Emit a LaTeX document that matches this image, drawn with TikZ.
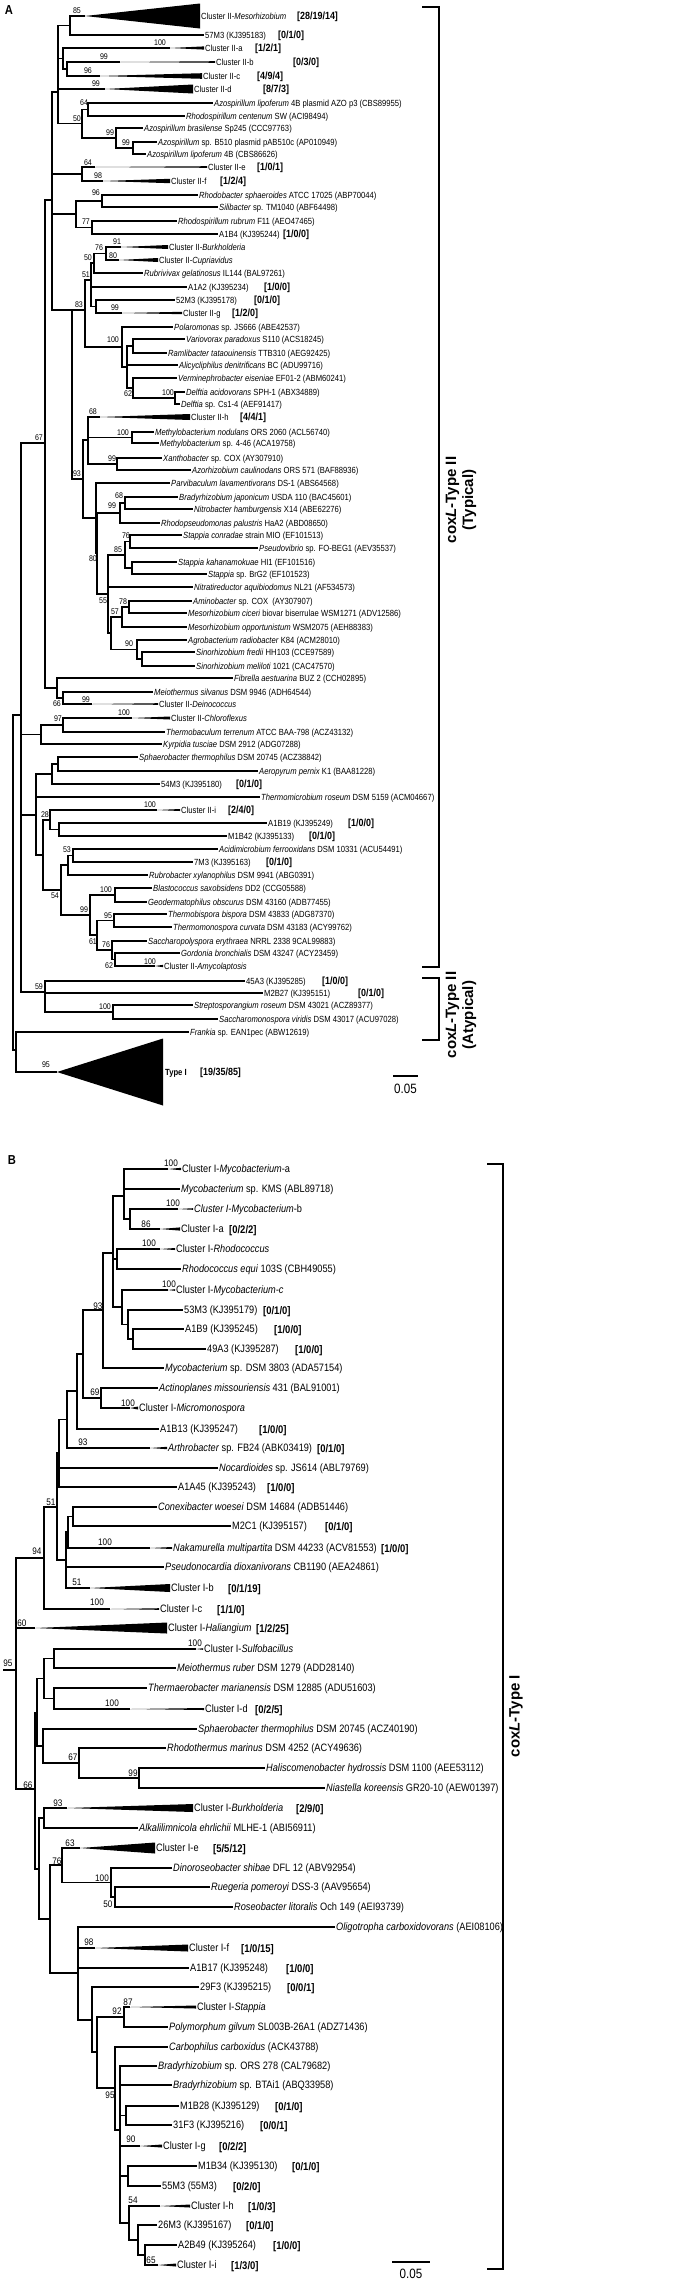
\documentclass[tikz,border=0pt]{standalone}
\usepackage{fontspec}
\setmainfont{Liberation Sans}[FakeStretch=0.86]
\newfontfamily\bracketfont{Liberation Sans}
\tikzset{
  branch/.style={line width=1.1pt},
  labA/.style={anchor=west, inner sep=1pt, text height=7pt, text depth=1pt, font=\fontsize{8.9}{10}\selectfont},
  labB/.style={anchor=west, inner sep=1pt, text height=8.5pt, text depth=1pt, font=\fontsize{10.7}{12}\selectfont},
  bootA/.style={inner sep=0pt, font=\fontsize{8.2}{9}\selectfont},
  bootB/.style={inner sep=0pt, font=\fontsize{9.5}{10}\selectfont},
  tallyA/.style={anchor=west, inner sep=0pt, text height=8.4pt, text depth=1pt, font=\fontsize{10.4}{12}\selectfont\bfseries},
  tallyB/.style={anchor=west, inner sep=0pt, text height=9pt, text depth=1pt, font=\fontsize{11}{12}\selectfont\bfseries},
  typebox/.style={rotate=90, align=center, inner sep=0pt, font=\bracketfont\fontsize{15}{17}\selectfont\bfseries},
}

\begin{document}
\begin{tikzpicture}[x=1pt, y=-1pt]
\useasboundingbox (0,0) rectangle (698,2281);

%%%%%%%%%%%%%%%% panel A
\node[font=\fontsize{13}{13}\selectfont\bfseries] (pa) at (9,10) {A};

% internal nodes
\coordinate (u1) at (13,882);
\coordinate (u2) at (21,715);
\coordinate (u3) at (45,443);
\coordinate (u4) at (52,200);
\coordinate (u5) at (58,92);
\coordinate (u6) at (70,25.5);
\coordinate (u7) at (63,58.5);
\coordinate (u8) at (67,69);
\coordinate (u9) at (82,123.5);
\coordinate (u10) at (88,109.5);
\coordinate (u11) at (116,138);
\coordinate (u12) at (133,148);
\coordinate (u13) at (82,174);
\coordinate (u14) at (76,214);
\coordinate (u15) at (102,201);
\coordinate (u16) at (92,227.5);
\coordinate (u17) at (72,310);
\coordinate (u18) at (85,310);
\coordinate (u19) at (91,280);
\coordinate (u20) at (94,263);
\coordinate (u21) at (106,253.5);
\coordinate (u22) at (96,306.5);
\coordinate (u23) at (122,347);
\coordinate (u24) at (127,367);
\coordinate (u25) at (133,346);
\coordinate (u26) at (133,388);
\coordinate (u27) at (175,398);
\coordinate (u28) at (83,479);
\coordinate (u29) at (88,440);
\coordinate (u30) at (132,437.5);
\coordinate (u31) at (117,464);
\coordinate (u32) at (96,518);
\coordinate (u33) at (97,553);
\coordinate (u34) at (120,513);
\coordinate (u35) at (125,503);
\coordinate (u36) at (108,594);
\coordinate (u37) at (125,555);
\coordinate (u38) at (130,541.5);
\coordinate (u39) at (132,568);
\coordinate (u40) at (111,633);
\coordinate (u41) at (122,617);
\coordinate (u42) at (129,607);
\coordinate (u43) at (137,649.5);
\coordinate (u44) at (142,659);
\coordinate (u45) at (57,688);
\coordinate (u46) at (63,698);
\coordinate (u47) at (41,734.5);
\coordinate (u48) at (63,725);
\coordinate (u49) at (36,815);
\coordinate (u50) at (52,774);
\coordinate (u51) at (58,764);
\coordinate (u52) at (43,855);
\coordinate (u53) at (50,820);
\coordinate (u54) at (59,829.5);
\coordinate (u55) at (61,890);
\coordinate (u56) at (68,865);
\coordinate (u57) at (73,855.5);
\coordinate (u58) at (90,915);
\coordinate (u59) at (115,895);
\coordinate (u60) at (97,935);
\coordinate (u61) at (114,920.5);
\coordinate (u62) at (112,950);
\coordinate (u63) at (115,959.5);
\coordinate (u64) at (45,992);
\coordinate (u65) at (113,1012);
\coordinate (u66) at (16,1050);

% collapsed clades (apex)
\coordinate (wa1) at (85,16);
\coordinate (wa3) at (170,48);
\coordinate (wa4) at (120,62);
\coordinate (wa5) at (100,76);
\coordinate (wa6) at (105,89);
\coordinate (wa12) at (95,167);
\coordinate (wa13) at (103,181);
\coordinate (wa18) at (121,247);
\coordinate (wa19) at (119,260);
\coordinate (wa23) at (122,313);
\coordinate (wa31) at (100,417);
\coordinate (wa53) at (92,704);
\coordinate (wa54) at (132,718);
\coordinate (wa61) at (157,810);
\coordinate (wa73) at (155,966);
\coordinate (wa79) at (57,1072);

% leaves
\node[labA] (a1) at (200,16) {Cluster II-\textit{Mesorhizobium}};
\node[labA] (a2) at (204,35) {57M3 (KJ395183)};
\node[labA] (a3) at (204,48) {Cluster II-a};
\node[labA] (a4) at (215,62) {Cluster II-b};
\node[labA] (a5) at (202,76) {Cluster II-c};
\node[labA] (a6) at (193,89) {Cluster II-d};
\node[labA] (a7) at (213,103) {\textit{Azospirillum lipoferum} 4B plasmid AZO p3 (CBS89955)};
\node[labA] (a8) at (185,116) {\textit{Rhodospirillum centenum} SW (ACI98494)};
\node[labA] (a9) at (143,128) {\textit{Azospirillum brasilense} Sp245 (CCC97763)};
\node[labA] (a10) at (157,142) {\textit{Azospirillum} sp. B510 plasmid pAB510c (AP010949)};
\node[labA] (a11) at (146,154) {\textit{Azospirillum lipoferum} 4B (CBS86626)};
\node[labA] (a12) at (207,167) {Cluster II-e};
\node[labA] (a13) at (170,181) {Cluster II-f};
\node[labA] (a14) at (198,195) {\textit{Rhodobacter sphaeroides} ATCC 17025 (ABP70044)};
\node[labA] (a15) at (218,207) {\textit{Silibacter} sp. TM1040 (ABF64498)};
\node[labA] (a16) at (177,221) {\textit{Rhodospirillum rubrum} F11 (AEO47465)};
\node[labA] (a17) at (218,234) {A1B4 (KJ395244)};
\node[labA] (a18) at (168,247) {Cluster II-\textit{Burkholderia}};
\node[labA] (a19) at (158,260) {Cluster II-\textit{Cupriavidus}};
\node[labA] (a20) at (143,273) {\textit{Rubrivivax gelatinosus} IL144 (BAL97261)};
\node[labA] (a21) at (187,287) {A1A2 (KJ395234)};
\node[labA] (a22) at (175,300) {52M3 (KJ395178)};
\node[labA] (a23) at (182,313) {Cluster II-g};
\node[labA] (a24) at (173,327) {\textit{Polaromonas} sp. JS666 (ABE42537)};
\node[labA] (a25) at (185,339) {\textit{Variovorax paradoxus} S110 (ACS18245)};
\node[labA] (a26) at (167,353) {\textit{Ramlibacter tataouinensis} TTB310 (AEG92425)};
\node[labA] (a27) at (178,365) {\textit{Alicycliphilus denitrificans} BC (ADU99716)};
\node[labA] (a28) at (177,378) {\textit{Verminephrobacter eiseniae} EF01-2 (ABM60241)};
\node[labA] (a29) at (185,392) {\textit{Delftia acidovorans} SPH-1 (ABX34889)};
\node[labA] (a30) at (180,404) {\textit{Delftia} sp. Cs1-4 (AEF91417)};
\node[labA] (a31) at (190,417) {Cluster II-h};
\node[labA] (a32) at (154,432) {\textit{Methylobacterium nodulans} ORS 2060 (ACL56740)};
\node[labA] (a33) at (159,443) {\textit{Methylobacterium} sp. 4-46 (ACA19758)};
\node[labA] (a34) at (162,458) {\textit{Xanthobacter} sp. COX (AY307910)};
\node[labA] (a35) at (191,470) {\textit{Azorhizobium caulinodans} ORS 571 (BAF88936)};
\node[labA] (a36) at (170,483) {\textit{Parvibaculum lavamentivorans} DS-1 (ABS64568)};
\node[labA] (a37) at (178,497) {\textit{Bradyrhizobium japonicum} USDA 110 (BAC45601)};
\node[labA] (a38) at (193,509) {\textit{Nitrobacter hamburgensis} X14 (ABE62276)};
\node[labA] (a39) at (160,523) {\textit{Rhodopseudomonas palustris} HaA2 (ABD08650)};
\node[labA] (a40) at (182,535) {\textit{Stappia conradae} strain MIO (EF101513)};
\node[labA] (a41) at (258,548) {\textit{Pseudovibrio} sp. FO-BEG1 (AEV35537)};
\node[labA] (a42) at (177,562) {\textit{Stappia kahanamokuae} HI1 (EF101516)};
\node[labA] (a43) at (207,574) {\textit{Stappia} sp. BrG2 (EF101523)};
\node[labA] (a44) at (193,587) {\textit{Nitratireductor aquibiodomus} NL21 (AF534573)};
\node[labA] (a45) at (192,601) {\textit{Aminobacter} sp. COX\ \ (AY307907)};
\node[labA] (a46) at (187,613) {\textit{Mesorhizobium ciceri} biovar biserrulae WSM1271 (ADV12586)};
\node[labA] (a47) at (187,627) {\textit{Mesorhizobium opportunistum} WSM2075 (AEH88383)};
\node[labA] (a48) at (187,640) {\textit{Agrobacterium radiobacter} K84 (ACM28010)};
\node[labA] (a49) at (195,652) {\textit{Sinorhizobium fredii} HH103 (CCE97589)};
\node[labA] (a50) at (195,666) {\textit{Sinorhizobium meliloti} 1021 (CAC47570)};
\node[labA] (a51) at (233,678) {\textit{Fibrella aestuarina} BUZ 2 (CCH02895)};
\node[labA] (a52) at (153,692) {\textit{Meiothermus silvanus} DSM 9946 (ADH64544)};
\node[labA] (a53) at (158,704) {Cluster II-\textit{Deinococcus}};
\node[labA] (a54) at (170,718) {Cluster II-\textit{Chloroflexus}};
\node[labA] (a55) at (165,732) {\textit{Thermobaculum terrenum} ATCC BAA-798 (ACZ43132)};
\node[labA] (a56) at (162,744) {\textit{Kyrpidia tusciae} DSM 2912 (ADG07288)};
\node[labA] (a57) at (138,757) {\textit{Sphaerobacter thermophilus} DSM 20745 (ACZ38842)};
\node[labA] (a58) at (258,771) {\textit{Aeropyrum pernix} K1 (BAA81228)};
\node[labA] (a59) at (160,784) {54M3 (KJ395180)};
\node[labA] (a60) at (260,797) {\textit{Thermomicrobium roseum} DSM 5159 (ACM04667)};
\node[labA] (a61) at (180,810) {Cluster II-i};
\node[labA] (a62) at (267,823) {A1B19 (KJ395249)};
\node[labA] (a63) at (227,836) {M1B42 (KJ395133)};
\node[labA] (a64) at (218,849) {\textit{Acidimicrobium ferrooxidans} DSM 10331 (ACU54491)};
\node[labA] (a65) at (193,862) {7M3 (KJ395163)};
\node[labA] (a66) at (148,875) {\textit{Rubrobacter xylanophilus} DSM 9941 (ABG0391)};
\node[labA] (a67) at (152,888) {\textit{Blastococcus saxobsidens} DD2 (CCG05588)};
\node[labA] (a68) at (147,902) {\textit{Geodermatophilus obscurus} DSM 43160 (ADB77455)};
\node[labA] (a69) at (167,914) {\textit{Thermobispora bispora} DSM 43833 (ADG87370)};
\node[labA] (a70) at (172,927) {\textit{Thermomonospora curvata} DSM 43183 (ACY99762)};
\node[labA] (a71) at (147,941) {\textit{Saccharopolyspora erythraea} NRRL 2338 9CAL99883)};
\node[labA] (a72) at (180,953) {\textit{Gordonia bronchialis} DSM 43247 (ACY23459)};
\node[labA] (a73) at (163,966) {Cluster II-\textit{Amycolaptosis}};
\node[labA] (a74) at (245,981) {45A3 (KJ395285)};
\node[labA] (a75) at (263,993) {M2B27 (KJ395151)};
\node[labA] (a76) at (193,1005) {\textit{Streptosporangium roseum} DSM 43021 (ACZ89377)};
\node[labA] (a77) at (218,1019) {\textit{Saccharomonospora viridis} DSM 43017 (ACU97028)};
\node[labA] (a78) at (189,1032) {\textit{Frankia} sp. EAN1pec (ABW12619)};
\node[labA, inner sep=2pt, font=\fontsize{8.9}{10}\selectfont\bfseries] (a79) at (163,1072) {Type I};

% clone counts
\node[tallyA] (ka1) at (297,16) {[28/19/14]};
\node[tallyA] (ka2) at (278,35) {[0/1/0]};
\node[tallyA] (ka3) at (255,48) {[1/2/1]};
\node[tallyA] (ka4) at (293,62) {[0/3/0]};
\node[tallyA] (ka5) at (257,76) {[4/9/4]};
\node[tallyA] (ka6) at (263,89) {[8/7/3]};
\node[tallyA] (ka12) at (257,167) {[1/0/1]};
\node[tallyA] (ka13) at (220,181) {[1/2/4]};
\node[tallyA] (ka17) at (283,234) {[1/0/0]};
\node[tallyA] (ka21) at (264,287) {[1/0/0]};
\node[tallyA] (ka22) at (254,300) {[0/1/0]};
\node[tallyA] (ka23) at (232,313) {[1/2/0]};
\node[tallyA] (ka31) at (240,417) {[4/4/1]};
\node[tallyA] (ka59) at (236,784) {[0/1/0]};
\node[tallyA] (ka61) at (228,810) {[2/4/0]};
\node[tallyA] (ka62) at (348,823) {[1/0/0]};
\node[tallyA] (ka63) at (309,836) {[0/1/0]};
\node[tallyA] (ka65) at (266,862) {[0/1/0]};
\node[tallyA] (ka74) at (322,981) {[1/0/0]};
\node[tallyA] (ka75) at (358,993) {[0/1/0]};
\node[tallyA] (ka79) at (200,1072) {[19/35/85]};

% bootstrap values
\node[bootA] (sa1) at (77,11) {85};
\node[bootA] (sa2) at (160,43) {100};
\node[bootA] (sa3) at (104,57) {99};
\node[bootA] (sa4) at (88,71) {96};
\node[bootA] (sa5) at (96,84) {99};
\node[bootA] (sa6) at (84,103) {64};
\node[bootA] (sa7) at (77,119) {50};
\node[bootA] (sa8) at (110,133) {99};
\node[bootA] (sa9) at (126,143) {99};
\node[bootA] (sa10) at (88,163) {64};
\node[bootA] (sa11) at (98,176) {98};
\node[bootA] (sa12) at (96,193) {96};
\node[bootA] (sa13) at (86,222) {77};
\node[bootA] (sa14) at (117,242) {91};
\node[bootA] (sa15) at (99,248) {76};
\node[bootA] (sa16) at (113,256) {80};
\node[bootA] (sa17) at (88,258) {50};
\node[bootA] (sa18) at (86,275) {51};
\node[bootA] (sa19) at (115,308) {99};
\node[bootA] (sa20) at (79,305) {83};
\node[bootA] (sa21) at (113,340) {100};
\node[bootA] (sa22) at (128,394) {62};
\node[bootA] (sa23) at (168,393) {100};
\node[bootA] (sa24) at (93,412) {68};
\node[bootA] (sa25) at (123,433) {100};
\node[bootA] (sa26) at (112,459) {99};
\node[bootA] (sa27) at (39,438) {67};
\node[bootA] (sa28) at (77,474) {93};
\node[bootA] (sa29) at (119,496) {68};
\node[bootA] (sa30) at (112,506) {99};
\node[bootA] (sa31) at (126,536) {76};
\node[bootA] (sa32) at (118,550) {85};
\node[bootA] (sa33) at (93,559) {80};
\node[bootA] (sa34) at (103,601) {55};
\node[bootA] (sa35) at (123,602) {78};
\node[bootA] (sa36) at (115,612) {57};
\node[bootA] (sa37) at (129,644) {90};
\node[bootA] (sa38) at (57,704) {66};
\node[bootA] (sa39) at (86,700) {99};
\node[bootA] (sa40) at (124,713) {100};
\node[bootA] (sa41) at (58,719) {97};
\node[bootA] (sa42) at (150,805) {100};
\node[bootA] (sa43) at (45,815) {28};
\node[bootA] (sa44) at (67,850) {53};
\node[bootA] (sa45) at (106,890) {100};
\node[bootA] (sa46) at (55,896) {54};
\node[bootA] (sa47) at (84,910) {99};
\node[bootA] (sa48) at (108,916) {95};
\node[bootA] (sa49) at (93,942) {61};
\node[bootA] (sa50) at (106,945) {76};
\node[bootA] (sa51) at (150,962) {100};
\node[bootA] (sa52) at (109,966) {62};
\node[bootA] (sa53) at (39,987) {59};
\node[bootA] (sa54) at (105,1007) {100};
\node[bootA] (sa55) at (46,1065) {95};

% branches
\draw[branch] (u1) |- (u2) (u1) |- (u66);
\draw[branch] (u2) |- (u3) (u2) |- (u47) (u2) |- (u49) (u2) |- (u64);
\draw[branch] (u3) |- (u4) (u3) |- (u45);
\draw[branch] (u4) |- (u5) (u4) |- (u13) (u4) |- (u14) (u4) |- (u17);
\draw[branch] (u5) |- (u6) (u5) |- (u7) (u5) |- (wa6) (u5) |- (u9);
\draw[branch] (u6) |- (wa1) (u6) |- (a2.west);
\draw[branch] (u7) |- (wa3) (u7) |- (u8);
\draw[branch] (u8) |- (wa4) (u8) |- (wa5);
\draw[branch] (u9) |- (u10) (u9) |- (u11);
\draw[branch] (u10) |- (a7.west) (u10) |- (a8.west);
\draw[branch] (u11) |- (a9.west) (u11) |- (u12);
\draw[branch] (u12) |- (a10.west) (u12) |- (a11.west);
\draw[branch] (u13) |- (wa12) (u13) |- (wa13);
\draw[branch] (u14) |- (u15) (u14) |- (u16);
\draw[branch] (u15) |- (a14.west) (u15) |- (a15.west);
\draw[branch] (u16) |- (a16.west) (u16) |- (a17.west);
\draw[branch] (u17) |- (u18) (u17) |- (u28);
\draw[branch] (u18) |- (u19) (u18) |- (u23);
\draw[branch] (u19) |- (u20) (u19) |- (a21.west) (u19) |- (u22);
\draw[branch] (u20) |- (u21) (u20) |- (a20.west);
\draw[branch] (u21) |- (wa18) (u21) |- (wa19);
\draw[branch] (u22) |- (a22.west) (u22) |- (wa23);
\draw[branch] (u23) |- (a24.west) (u23) |- (u24);
\draw[branch] (u24) |- (u25) (u24) |- (a27.west) (u24) |- (u26);
\draw[branch] (u25) |- (a25.west) (u25) |- (a26.west);
\draw[branch] (u26) |- (a28.west) (u26) |- (u27);
\draw[branch] (u27) |- (a29.west) (u27) |- (a30.west);
\draw[branch] (u28) |- (u29) (u28) |- (u32);
\draw[branch] (u29) |- (wa31) (u29) |- (u30) (u29) |- (u31);
\draw[branch] (u30) |- (a32.west) (u30) |- (a33.west);
\draw[branch] (u31) |- (a34.west) (u31) |- (a35.west);
\draw[branch] (u32) |- (a36.west) (u32) |- (u33);
\draw[branch] (u33) |- (u34) (u33) |- (u36);
\draw[branch] (u34) |- (u35) (u34) |- (a39.west);
\draw[branch] (u35) |- (a37.west) (u35) |- (a38.west);
\draw[branch] (u36) |- (u37) (u36) |- (a44.west) (u36) |- (u40);
\draw[branch] (u37) |- (u38) (u37) |- (u39);
\draw[branch] (u38) |- (a40.west) (u38) |- (a41.west);
\draw[branch] (u39) |- (a42.west) (u39) |- (a43.west);
\draw[branch] (u40) |- (u41) (u40) |- (u43);
\draw[branch] (u41) |- (u42) (u41) |- (a47.west);
\draw[branch] (u42) |- (a45.west) (u42) |- (a46.west);
\draw[branch] (u43) |- (a48.west) (u43) |- (u44);
\draw[branch] (u44) |- (a49.west) (u44) |- (a50.west);
\draw[branch] (u45) |- (a51.west) (u45) |- (u46);
\draw[branch] (u46) |- (a52.west) (u46) |- (wa53);
\draw[branch] (u47) |- (u48) (u47) |- (a56.west);
\draw[branch] (u48) |- (wa54) (u48) |- (a55.west);
\draw[branch] (u49) |- (u50) (u49) |- (a60.west) (u49) |- (u52);
\draw[branch] (u50) |- (u51) (u50) |- (a59.west);
\draw[branch] (u51) |- (a57.west) (u51) |- (a58.west);
\draw[branch] (u52) |- (u53) (u52) |- (u55);
\draw[branch] (u53) |- (wa61) (u53) |- (u54);
\draw[branch] (u54) |- (a62.west) (u54) |- (a63.west);
\draw[branch] (u55) |- (u56) (u55) |- (u58);
\draw[branch] (u56) |- (u57) (u56) |- (a66.west);
\draw[branch] (u57) |- (a64.west) (u57) |- (a65.west);
\draw[branch] (u58) |- (u59) (u58) |- (u60);
\draw[branch] (u59) |- (a67.west) (u59) |- (a68.west);
\draw[branch] (u60) |- (u61) (u60) |- (u62);
\draw[branch] (u61) |- (a69.west) (u61) |- (a70.west);
\draw[branch] (u62) |- (a71.west) (u62) |- (u63);
\draw[branch] (u63) |- (a72.west) (u63) |- (wa73);
\draw[branch] (u64) |- (a74.west) (u64) |- (a75.west) (u64) |- (u65);
\draw[branch] (u65) |- (a76.west) (u65) |- (a77.west);
\draw[branch] (u66) |- (a78.west) (u66) |- (wa79);

% wedges
\fill (wa1) -- ([yshift=12.5pt]a1.west) -- ([yshift=-12.5pt]a1.west) -- cycle;
\fill (wa3) -- ([yshift=1.6pt]a3.west) -- ([yshift=-1.6pt]a3.west) -- cycle;
\fill (wa4) -- ([yshift=0.8pt]a4.west) -- ([yshift=-0.8pt]a4.west) -- cycle;
\fill (wa5) -- ([yshift=2.8pt]a5.west) -- ([yshift=-2.8pt]a5.west) -- cycle;
\fill (wa6) -- ([yshift=4.5pt]a6.west) -- ([yshift=-4.5pt]a6.west) -- cycle;
\fill (wa12) -- ([yshift=0.8pt]a12.west) -- ([yshift=-0.8pt]a12.west) -- cycle;
\fill (wa13) -- ([yshift=2.2pt]a13.west) -- ([yshift=-2.2pt]a13.west) -- cycle;
\fill (wa18) -- ([yshift=2pt]a18.west) -- ([yshift=-2pt]a18.west) -- cycle;
\fill (wa19) -- ([yshift=2pt]a19.west) -- ([yshift=-2pt]a19.west) -- cycle;
\fill (wa23) -- ([yshift=1.2pt]a23.west) -- ([yshift=-1.2pt]a23.west) -- cycle;
\fill (wa31) -- ([yshift=3pt]a31.west) -- ([yshift=-3pt]a31.west) -- cycle;
\fill (wa53) -- ([yshift=0.8pt]a53.west) -- ([yshift=-0.8pt]a53.west) -- cycle;
\fill (wa54) -- ([yshift=1.5pt]a54.west) -- ([yshift=-1.5pt]a54.west) -- cycle;
\fill (wa61) -- ([yshift=1pt]a61.west) -- ([yshift=-1pt]a61.west) -- cycle;
\fill (wa73) -- ([yshift=1.2pt]a73.west) -- ([yshift=-1.2pt]a73.west) -- cycle;
\fill (wa79) -- ([yshift=33.5pt]a79.west) -- ([yshift=-33.5pt]a79.west) -- cycle;

% groups
\coordinate (ta1) at (422,7);
\coordinate (ta2) at (439,7);
\coordinate (ta3) at (439,967);
\coordinate (ta4) at (422,967);
\draw[branch] (ta1) -- (ta2) -- (ta3) -- (ta4);
\node[typebox] (typ) at (461,500) {cox\textit{L}-Type II\\(Typical)};
\coordinate (tb1) at (422,978);
\coordinate (tb2) at (439,978);
\coordinate (tb3) at (439,1040);
\coordinate (tb4) at (422,1040);
\draw[branch] (tb1) -- (tb2) -- (tb3) -- (tb4);
\node[typebox] (atyp) at (461,1015) {cox\textit{L}-Type II\\(Atypical)};

% scale
\coordinate (sca1) at (393,1076);
\coordinate (sca2) at (418,1076);
\draw[branch] (sca1) -- (sca2);
\node[font=\fontsize{13.5}{14}\selectfont] (sca) at (405.5,1089) {0.05};

%%%%%%%%%%%%%%%% panel B
\node[font=\fontsize{13}{13}\selectfont\bfseries] (pb) at (12,1160) {B};

\coordinate (v0) at (3,1670);
\coordinate (v1) at (16,1670);
\coordinate (v2) at (44,1558);
\coordinate (v3) at (57,1507);
\coordinate (v4) at (59,1453);
\coordinate (v5) at (67,1419.5);
\coordinate (v6) at (77,1391);
\coordinate (v7) at (83,1354);
\coordinate (v8) at (103,1310);
\coordinate (v9) at (113,1253);
\coordinate (v10) at (124,1196);
\coordinate (v11) at (130,1219);
\coordinate (v12) at (117,1259);
\coordinate (v13) at (122,1307);
\coordinate (v14) at (128,1324.5);
\coordinate (v15) at (133,1339);
\coordinate (v16) at (101,1398);
\coordinate (v17) at (66,1560);
\coordinate (v18) at (68,1532);
\coordinate (v19) at (73,1516.5);
\coordinate (v20) at (35,1789);
\coordinate (v21) at (37,1713);
\coordinate (v22) at (44,1678.5);
\coordinate (v23) at (54,1658.5);
\coordinate (v24) at (54,1698.5);
\coordinate (v25) at (43,1746);
\coordinate (v26) at (79,1763);
\coordinate (v27) at (139,1778);
\coordinate (v28) at (39,1869);
\coordinate (v29) at (44,1818);
\coordinate (v30) at (50,1919);
\coordinate (v31) at (62,1865);
\coordinate (v32) at (111,1882.5);
\coordinate (v33) at (115,1897);
\coordinate (v34) at (78,1973);
\coordinate (v35) at (92,2020);
\coordinate (v36) at (97,2052);
\coordinate (v37) at (124,2017);
\coordinate (v38) at (115,2088);
\coordinate (v39) at (120,2130);
\coordinate (v40) at (126,2115.5);
\coordinate (v41) at (128,2176);
\coordinate (v42) at (129,2223);
\coordinate (v43) at (138,2240);
\coordinate (v44) at (145,2255);

\coordinate (wb1) at (168,1169);
\coordinate (wb3) at (178,1209);
\coordinate (wb4) at (160,1229);
\coordinate (wb5) at (160,1249);
\coordinate (wb7) at (168,1290);
\coordinate (wb13) at (130,1408);
\coordinate (wb15) at (150,1448);
\coordinate (wb20) at (150,1548);
\coordinate (wb22) at (90,1588);
\coordinate (wb23) at (110,1609);
\coordinate (wb24) at (35,1628);
\coordinate (wb25) at (196,1649);
\coordinate (wb28) at (130,1709);
\coordinate (wb33) at (67,1808);
\coordinate (wb35) at (80,1848);
\coordinate (wb40) at (95,1948);
\coordinate (wb43) at (130,2007);
\coordinate (wb50) at (140,2146);
\coordinate (wb53) at (160,2206);
\coordinate (wb56) at (158,2265);

\node[labB] (b1) at (181,1169) {Cluster I-\textit{Mycobacterium}-a};
\node[labB] (b2) at (180,1189) {\textit{Mycobacterium} sp. KMS (ABL89718)};
\node[labB] (b3) at (193,1209) {\textit{Cluster I-Mycobacterium}-b};
\node[labB] (b4) at (180,1229) {Cluster I-a};
\node[labB] (b5) at (175,1249) {Cluster I-\textit{Rhodococcus}};
\node[labB] (b6) at (181,1269) {\textit{Rhodococcus equi} 103S (CBH49055)};
\node[labB] (b7) at (175,1290) {Cluster I-\textit{Mycobacterium-c}};
\node[labB] (b8) at (183,1310) {53M3 (KJ395179)};
\node[labB] (b9) at (184,1329) {A1B9 (KJ395245)};
\node[labB] (b10) at (206,1349) {49A3 (KJ395287)};
\node[labB] (b11) at (164,1368) {\textit{Mycobacterium} sp. DSM 3803 (ADA57154)};
\node[labB] (b12) at (158,1388) {\textit{Actinoplanes missouriensis} 431 (BAL91001)};
\node[labB] (b13) at (138,1408) {Cluster I-\textit{Micromonospora}};
\node[labB] (b14) at (159,1429) {A1B13 (KJ395247)};
\node[labB] (b15) at (167,1448) {\textit{Arthrobacter} sp. FB24 (ABK03419)};
\node[labB] (b16) at (218,1468) {\textit{Nocardioides} sp. JS614 (ABL79769)};
\node[labB] (b17) at (177,1487) {A1A45 (KJ395243)};
\node[labB] (b18) at (157,1507) {\textit{Conexibacter woesei} DSM 14684 (ADB51446)};
\node[labB] (b19) at (231,1526) {M2C1 (KJ395157)};
\node[labB] (b20) at (172,1548) {\textit{Nakamurella multipartita} DSM 44233 (ACV81553)};
\node[labB] (b21) at (164,1567) {\textit{Pseudonocardia dioxanivorans} CB1190 (AEA24861)};
\node[labB] (b22) at (170,1588) {Cluster I-b};
\node[labB] (b23) at (159,1609) {Cluster I-c};
\node[labB] (b24) at (167,1628) {Cluster I-\textit{Haliangium}};
\node[labB] (b25) at (203,1649) {Cluster I-\textit{Sulfobacillus}};
\node[labB] (b26) at (176,1668) {\textit{Meiothermus ruber} DSM 1279 (ADD28140)};
\node[labB] (b27) at (147,1688) {\textit{Thermaerobacter marianensis} DSM 12885 (ADU51603)};
\node[labB] (b28) at (204,1709) {Cluster I-d};
\node[labB] (b29) at (197,1729) {\textit{Sphaerobacter thermophilus} DSM 20745 (ACZ40190)};
\node[labB] (b30) at (166,1748) {\textit{Rhodothermus marinus} DSM 4252 (ACY49636)};
\node[labB] (b31) at (265,1768) {\textit{Haliscomenobacter hydrossis} DSM 1100 (AEE53112)};
\node[labB] (b32) at (325,1788) {\textit{Niastella koreensis} GR20-10 (AEW01397)};
\node[labB] (b33) at (193,1808) {Cluster I-\textit{Burkholderia}};
\node[labB] (b34) at (138,1828) {\textit{Alkalilimnicola ehrlichii} MLHE-1 (ABI56911)};
\node[labB] (b35) at (155,1848) {Cluster I-e};
\node[labB] (b36) at (172,1868) {\textit{Dinoroseobacter shibae} DFL 12 (ABV92954)};
\node[labB] (b37) at (210,1887) {\textit{Ruegeria pomeroyi} DSS-3 (AAV95654)};
\node[labB] (b38) at (233,1907) {\textit{Roseobacter litoralis} Och 149 (AEI93739)};
\node[labB] (b39) at (335,1927) {\textit{Oligotropha carboxidovorans} (AEI08106)};
\node[labB] (b40) at (188,1948) {Cluster I-f};
\node[labB] (b41) at (189,1968) {A1B17 (KJ395248)};
\node[labB] (b42) at (199,1987) {29F3 (KJ395215)};
\node[labB] (b43) at (196,2007) {Cluster I-\textit{Stappia}};
\node[labB] (b44) at (168,2027) {\textit{Polymorphum gilvum} SL003B-26A1 (ADZ71436)};
\node[labB] (b45) at (168,2047) {\textit{Carbophilus carboxidus} (ACK43788)};
\node[labB] (b46) at (157,2066) {\textit{Bradyrhizobium} sp. ORS 278 (CAL79682)};
\node[labB] (b47) at (172,2085) {\textit{Bradyrhizobium} sp. BTAi1 (ABQ33958)};
\node[labB] (b48) at (179,2106) {M1B28 (KJ395129)};
\node[labB] (b49) at (172,2125) {31F3 (KJ395216)};
\node[labB] (b50) at (162,2146) {Cluster I-g};
\node[labB] (b51) at (197,2166) {M1B34 (KJ395130)};
\node[labB] (b52) at (161,2186) {55M3 (55M3)};
\node[labB] (b53) at (190,2206) {Cluster I-h};
\node[labB] (b54) at (157,2225) {26M3 (KJ395167)};
\node[labB] (b55) at (177,2245) {A2B49 (KJ395264)};
\node[labB] (b56) at (176,2265) {Cluster I-i};

\node[tallyB] (kb4) at (229,1229) {[0/2/2]};
\node[tallyB] (kb8) at (263,1310) {[0/1/0]};
\node[tallyB] (kb9) at (274,1329) {[1/0/0]};
\node[tallyB] (kb10) at (295,1349) {[1/0/0]};
\node[tallyB] (kb14) at (259,1429) {[1/0/0]};
\node[tallyB] (kb15) at (317,1448) {[0/1/0]};
\node[tallyB] (kb17) at (267,1487) {[1/0/0]};
\node[tallyB] (kb19) at (325,1526) {[0/1/0]};
\node[tallyB] (kb20) at (381,1548) {[1/0/0]};
\node[tallyB] (kb22) at (228,1588) {[0/1/19]};
\node[tallyB] (kb23) at (217,1609) {[1/1/0]};
\node[tallyB] (kb24) at (256,1628) {[1/2/25]};
\node[tallyB] (kb28) at (255,1709) {[0/2/5]};
\node[tallyB] (kb33) at (296,1808) {[2/9/0]};
\node[tallyB] (kb35) at (213,1848) {[5/5/12]};
\node[tallyB] (kb40) at (241,1948) {[1/0/15]};
\node[tallyB] (kb41) at (286,1968) {[1/0/0]};
\node[tallyB] (kb42) at (287,1987) {[0/0/1]};
\node[tallyB] (kb48) at (275,2106) {[0/1/0]};
\node[tallyB] (kb49) at (260,2125) {[0/0/1]};
\node[tallyB] (kb50) at (219,2146) {[0/2/2]};
\node[tallyB] (kb51) at (292,2166) {[0/1/0]};
\node[tallyB] (kb52) at (233,2186) {[0/2/0]};
\node[tallyB] (kb53) at (248,2206) {[1/0/3]};
\node[tallyB] (kb54) at (246,2225) {[0/1/0]};
\node[tallyB] (kb55) at (273,2245) {[1/0/0]};
\node[tallyB] (kb56) at (231,2265) {[1/3/0]};

\node[bootB] (sb1) at (8,1663) {95};
\node[bootB] (sb2) at (37,1551) {94};
\node[bootB] (sb3) at (51,1502) {51};
\node[bootB] (sb4) at (98,1306) {93};
\node[bootB] (sb5) at (171,1163) {100};
\node[bootB] (sb6) at (173,1203) {100};
\node[bootB] (sb7) at (146,1224) {86};
\node[bootB] (sb8) at (149,1243) {100};
\node[bootB] (sb9) at (169,1284) {100};
\node[bootB] (sb10) at (95,1392) {69};
\node[bootB] (sb11) at (128,1403) {100};
\node[bootB] (sb12) at (83,1442) {93};
\node[bootB] (sb13) at (105,1542) {100};
\node[bootB] (sb14) at (77,1582) {51};
\node[bootB] (sb15) at (97,1602) {100};
\node[bootB] (sb16) at (22,1623) {60};
\node[bootB] (sb17) at (195,1643) {100};
\node[bootB] (sb18) at (112,1703) {100};
\node[bootB] (sb19) at (28,1785) {66};
\node[bootB] (sb20) at (73,1757) {67};
\node[bootB] (sb21) at (133,1773) {99};
\node[bootB] (sb22) at (58,1803) {93};
\node[bootB] (sb23) at (70,1843) {63};
\node[bootB] (sb24) at (57,1861) {76};
\node[bootB] (sb25) at (102,1878) {100};
\node[bootB] (sb26) at (108,1904) {50};
\node[bootB] (sb27) at (89,1942) {98};
\node[bootB] (sb28) at (117,2011) {92};
\node[bootB] (sb29) at (128,2002) {87};
\node[bootB] (sb30) at (110,2095) {95};
\node[bootB] (sb31) at (131,2139) {90};
\node[bootB] (sb32) at (133,2200) {54};
\node[bootB] (sb33) at (151,2260) {65};

\draw[branch] (v0) -- (v1);
\draw[branch] (v1) |- (v2) (v1) |- (wb24) (v1) |- (v20);
\draw[branch] (v2) |- (v3) (v2) |- (wb23);
\draw[branch] (v3) |- (v4) (v3) |- (v17);
\draw[branch] (v4) |- (v5) (v4) |- (b16.west) (v4) |- (b17.west);
\draw[branch] (v5) |- (v6) (v5) |- (wb15);
\draw[branch] (v6) |- (v7) (v6) |- (b14.west);
\draw[branch] (v7) |- (v8) (v7) |- (v16);
\draw[branch] (v8) |- (v9) (v8) |- (b11.west);
\draw[branch] (v9) |- (v10) (v9) |- (v12) (v9) |- (v13);
\draw[branch] (v10) |- (wb1) (v10) |- (b2.west) (v10) |- (v11);
\draw[branch] (v11) |- (wb3) (v11) |- (wb4);
\draw[branch] (v12) |- (wb5) (v12) |- (b6.west);
\draw[branch] (v13) |- (wb7) (v13) |- (v14);
\draw[branch] (v14) |- (b8.west) (v14) |- (v15);
\draw[branch] (v15) |- (b9.west) (v15) |- (b10.west);
\draw[branch] (v16) |- (b12.west) (v16) |- (wb13);
\draw[branch] (v17) |- (v18) (v17) |- (b21.west) (v17) |- (wb22);
\draw[branch] (v18) |- (v19) (v18) |- (wb20);
\draw[branch] (v19) |- (b18.west) (v19) |- (b19.west);
\draw[branch] (v20) |- (v21) (v20) |- (v28);
\draw[branch] (v21) |- (v22) (v21) |- (v25);
\draw[branch] (v22) |- (v23) (v22) |- (v24);
\draw[branch] (v23) |- (wb25) (v23) |- (b26.west);
\draw[branch] (v24) |- (b27.west) (v24) |- (wb28);
\draw[branch] (v25) |- (b29.west) (v25) |- (v26);
\draw[branch] (v26) |- (b30.west) (v26) |- (v27);
\draw[branch] (v27) |- (b31.west) (v27) |- (b32.west);
\draw[branch] (v28) |- (v29) (v28) |- (v30);
\draw[branch] (v29) |- (wb33) (v29) |- (b34.west);
\draw[branch] (v30) |- (v31) (v30) |- (v34);
\draw[branch] (v31) |- (wb35) (v31) |- (v32);
\draw[branch] (v32) |- (b36.west) (v32) |- (v33);
\draw[branch] (v33) |- (b37.west) (v33) |- (b38.west);
\draw[branch] (v34) |- (b39.west) (v34) |- (wb40) (v34) |- (b41.west) (v34) |- (v35);
\draw[branch] (v35) |- (b42.west) (v35) |- (v36);
\draw[branch] (v36) |- (v37) (v36) |- (v38);
\draw[branch] (v37) |- (wb43) (v37) |- (b44.west);
\draw[branch] (v38) |- (b45.west) (v38) |- (v39);
\draw[branch] (v39) |- (b46.west) (v39) |- (b47.west) (v39) |- (v40) (v39) |- (wb50) (v39) |- (v41) (v39) |- (v42);
\draw[branch] (v40) |- (b48.west) (v40) |- (b49.west);
\draw[branch] (v41) |- (b51.west) (v41) |- (b52.west);
\draw[branch] (v42) |- (wb53) (v42) |- (v43);
\draw[branch] (v43) |- (b54.west) (v43) |- (v44);
\draw[branch] (v44) |- (b55.west) (v44) |- (wb56);

\fill (wb1) -- ([yshift=1.2pt]b1.west) -- ([yshift=-1.2pt]b1.west) -- cycle;
\fill (wb3) -- ([yshift=0.8pt]b3.west) -- ([yshift=-0.8pt]b3.west) -- cycle;
\fill (wb4) -- ([yshift=1.6pt]b4.west) -- ([yshift=-1.6pt]b4.west) -- cycle;
\fill (wb5) -- ([yshift=1pt]b5.west) -- ([yshift=-1pt]b5.west) -- cycle;
\fill (wb7) -- ([yshift=0.8pt]b7.west) -- ([yshift=-0.8pt]b7.west) -- cycle;
\fill (wb13) -- ([yshift=1.5pt]b13.west) -- ([yshift=-1.5pt]b13.west) -- cycle;
\fill (wb15) -- ([yshift=1.2pt]b15.west) -- ([yshift=-1.2pt]b15.west) -- cycle;
\fill (wb20) -- ([yshift=1pt]b20.west) -- ([yshift=-1pt]b20.west) -- cycle;
\fill (wb22) -- ([yshift=4pt]b22.west) -- ([yshift=-4pt]b22.west) -- cycle;
\fill (wb23) -- ([yshift=0.8pt]b23.west) -- ([yshift=-0.8pt]b23.west) -- cycle;
\fill (wb24) -- ([yshift=5.5pt]b24.west) -- ([yshift=-5.5pt]b24.west) -- cycle;
\fill (wb25) -- ([yshift=0.8pt]b25.west) -- ([yshift=-0.8pt]b25.west) -- cycle;
\fill (wb28) -- ([yshift=1pt]b28.west) -- ([yshift=-1pt]b28.west) -- cycle;
\fill (wb33) -- ([yshift=4pt]b33.west) -- ([yshift=-4pt]b33.west) -- cycle;
\fill (wb35) -- ([yshift=5.5pt]b35.west) -- ([yshift=-5.5pt]b35.west) -- cycle;
\fill (wb40) -- ([yshift=3.5pt]b40.west) -- ([yshift=-3.5pt]b40.west) -- cycle;
\fill (wb43) -- ([yshift=1.5pt]b43.west) -- ([yshift=-1.5pt]b43.west) -- cycle;
\fill (wb50) -- ([yshift=1.5pt]b50.west) -- ([yshift=-1.5pt]b50.west) -- cycle;
\fill (wb53) -- ([yshift=1.5pt]b53.west) -- ([yshift=-1.5pt]b53.west) -- cycle;
\fill (wb56) -- ([yshift=1.5pt]b56.west) -- ([yshift=-1.5pt]b56.west) -- cycle;

\coordinate (tc1) at (487,1164);
\coordinate (tc2) at (503,1164);
\coordinate (tc3) at (503,2269);
\coordinate (tc4) at (487,2269);
\draw[branch] (tc1) -- (tc2) -- (tc3) -- (tc4);
\node[typebox] (typ1) at (516,1716) {cox\textit{L}-Type I};

\coordinate (scb1) at (392,2262);
\coordinate (scb2) at (430,2262);
\draw[branch] (scb1) -- (scb2);
\node[font=\fontsize{13.5}{14}\selectfont] (scb) at (411,2274) {0.05};
\end{tikzpicture}
\end{document}
